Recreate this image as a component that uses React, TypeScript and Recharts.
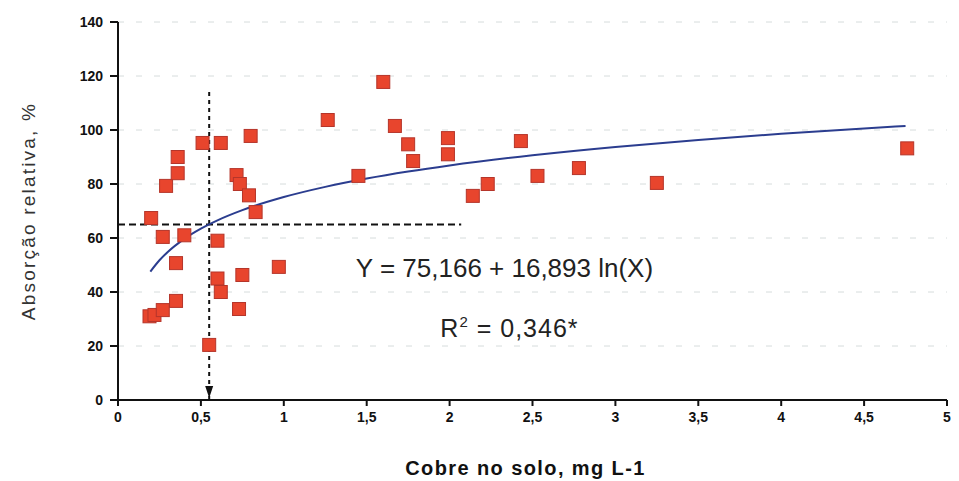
import React from "react";
import {
  ComposedChart,
  Scatter,
  Line,
  XAxis,
  YAxis,
  CartesianGrid,
  ReferenceLine,
  ReferenceDot,
} from "recharts";

// Observed points (Cobre no solo, mg L-1  vs  Absorção relativa, %)
const cobre = [
  0.2, 0.19, 0.22, 0.27, 0.27, 0.29, 0.35, 0.35, 0.36, 0.36, 0.4, 0.51, 0.55, 0.6,
  0.6, 0.62, 0.62, 0.715, 0.73, 0.735, 0.75, 0.79, 0.8, 0.83, 0.97, 1.265, 1.45,
  1.6, 1.67, 1.75, 1.78, 1.99, 1.99, 2.14, 2.23, 2.43, 2.53, 2.78, 3.25, 4.76,
];
const absorcao = [
  67.4, 31.0, 31.5, 33.3, 60.4, 79.3, 36.7, 50.7, 84.0, 90.0, 61.0, 95.2, 20.4, 59.0,
  45.0, 40.0, 95.2, 83.3, 33.7, 80.0, 46.3, 75.8, 97.8, 69.6, 49.3, 103.7, 83.0,
  117.8, 101.5, 94.7, 88.5, 97.0, 91.0, 75.6, 80.0, 95.9, 83.0, 85.9, 80.4, 93.2,
];

// Fitted model printed on the chart: Y = 75,166 + 16,893 ln(X)
const coefA = 75.166;
const coefB = 16.893;
const curveX = [0.195, 0.25, 0.3, 0.4, 0.5, 0.6, 0.75, 1, 1.25, 1.5, 1.75, 2, 2.5, 3, 3.5, 4, 4.5, 4.75];

const xTicks = [0, 0.5, 1, 1.5, 2, 2.5, 3, 3.5, 4, 4.5, 5];
const yTicks = [0, 20, 40, 60, 80, 100, 120, 140];

const equationText = "Y = 75,166 + 16,893 ln(X)";
const r2Value = "0,346*";
const xLabel = "Cobre no solo, mg L-1";
const yLabel = "Absorção relativa, %";

// critical level guide
const critX = 0.55;
const critY = 65;
const guideXEnd = 2.07;
const guideYEnd = 115;

const points = cobre.map((x, i) => ({ x, y: absorcao[i] }));
const curve = curveX.map((x) => ({ x, y: coefA + coefB * Math.log(x) }));

const FONT = "'Liberation Sans', Arial, sans-serif";

const Square = (props: any) => {
  const { cx, cy } = props;
  if (cx == null || cy == null) return null;
  return (
    <rect x={cx - 6.5} y={cy - 6.5} width={13} height={13} fill="#e8452d" stroke="#b5352a" strokeWidth={1} />
  );
};

const fmt = (v: number) => String(v).replace(".", ",");

export default function App() {
  return (
    <div style={{ position: "absolute", left: 0, top: 0, width: 959, height: 481, background: "#fff" }}>
      <ComposedChart
        width={959}
        height={481}
        margin={{ top: 22, right: 12, bottom: 0, left: 0 }}
        style={{ fontFamily: FONT }}
      >
        <CartesianGrid vertical={false} horizontal={true} stroke="#d6dcdc" strokeDasharray="6 12" />
        <XAxis
          type="number"
          dataKey="x"
          domain={[0, 5]}
          ticks={xTicks}
          tickFormatter={fmt}
          height={81}
          stroke="#111"
          strokeWidth={2}
          tickSize={6}
          tickMargin={6}
          tick={{ fill: "#111", fontSize: 14, fontWeight: 700, fontFamily: FONT }}
          allowDataOverflow
          label={{
            value: xLabel,
            content: (p: any) => {
              const vb = p.viewBox || {};
              return (
                <text
                  x={vb.x + vb.width / 2 - 7}
                  y={475}
                  textAnchor="middle"
                  fill="#111"
                  fontSize={20}
                  fontWeight={700}
                  letterSpacing={1.4}
                  fontFamily={FONT}
                >
                  {xLabel}
                </text>
              );
            },
          }}
        />
        <YAxis
          type="number"
          dataKey="y"
          domain={[0, 140]}
          ticks={yTicks}
          width={118}
          stroke="#111"
          strokeWidth={2}
          tickSize={8}
          tickMargin={7}
          tick={{ fill: "#111", fontSize: 14, fontWeight: 700, fontFamily: FONT }}
          label={{
            value: yLabel,
            content: () => (
              <text
                transform="translate(35,211) rotate(-90)"
                textAnchor="middle"
                fill="#333"
                fontSize={19}
                letterSpacing={2.2}
                fontFamily={FONT}
              >
                {yLabel}
              </text>
            ),
          }}
        />
        <ReferenceLine
          segment={[{ x: 0, y: critY }, { x: guideXEnd, y: critY }]}
          stroke="#111"
          strokeWidth={2}
          strokeDasharray="7 4"
          ifOverflow="visible"
        />
        <ReferenceLine
          segment={[{ x: critX, y: 0 }, { x: critX, y: guideYEnd }]}
          stroke="#111"
          strokeWidth={2}
          strokeDasharray="4 4"
          ifOverflow="visible"
        />
        <ReferenceDot
          x={critX}
          y={0}
          r={0}
          ifOverflow="visible"
          shape={(p: any) => (
            <polygon
              points={`${p.cx - 4},${p.cy - 14} ${p.cx + 4},${p.cy - 14} ${p.cx},${p.cy - 2}`}
              fill="#111"
            />
          )}
        />
        <Scatter data={points} shape={Square} isAnimationActive={false} />
        <Line
          data={curve}
          dataKey="y"
          type="monotone"
          stroke="#2b3d8f"
          strokeWidth={2}
          dot={false}
          activeDot={false}
          isAnimationActive={false}
        />
        <ReferenceDot
          x={2.331}
          y={45.6}
          r={0}
          ifOverflow="visible"
          shape={(p: any) => (
            <text x={p.cx} y={p.cy} textAnchor="middle" fill="#222" fontSize={26} fontFamily={FONT}>
              {equationText}
            </text>
          )}
        />
        <ReferenceDot
          x={2.361}
          y={23.3}
          r={0}
          ifOverflow="visible"
          shape={(p: any) => (
            <text x={p.cx} y={p.cy} textAnchor="middle" fill="#222" fontSize={25} letterSpacing={1} fontFamily={FONT}>
              R<tspan dy={-10} fontSize={15}>2</tspan>
              <tspan dy={10}>{" = " + r2Value}</tspan>
            </text>
          )}
        />
      </ComposedChart>
    </div>
  );
}
